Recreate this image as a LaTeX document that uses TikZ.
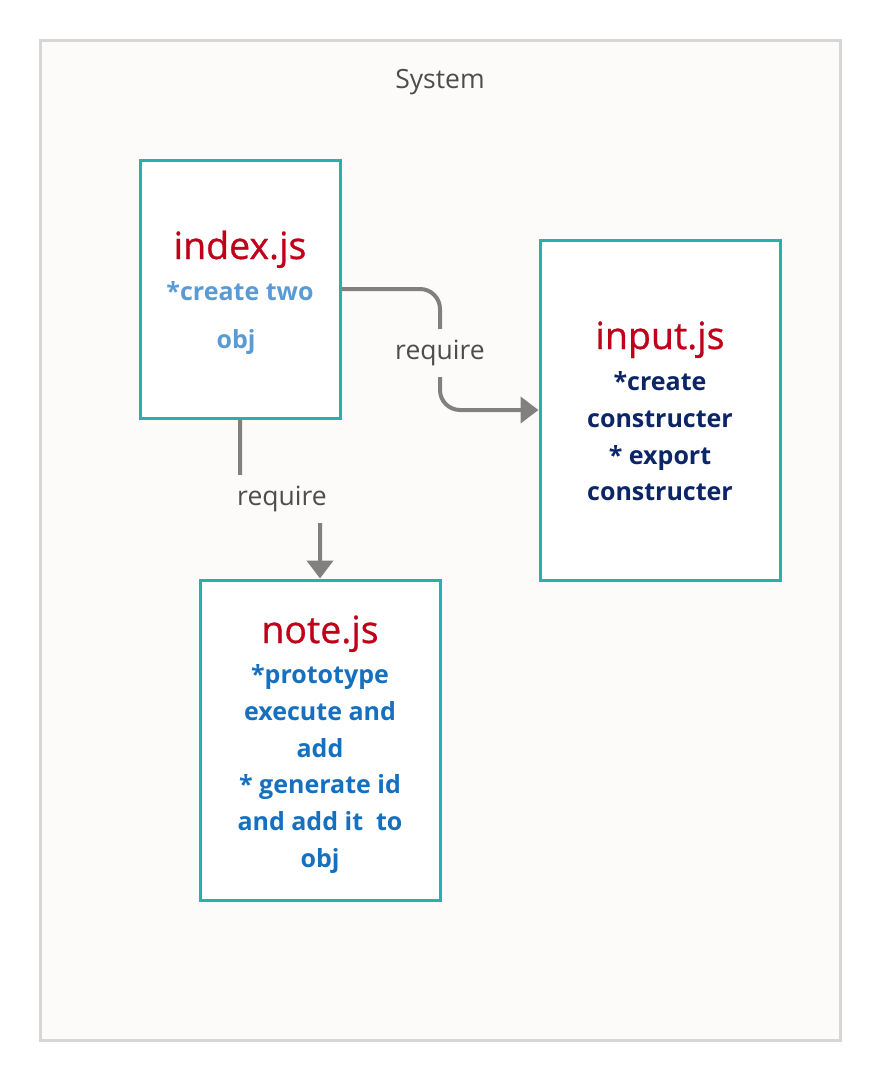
\documentclass[tikz,border=0pt]{standalone}
\usepackage{fontspec}
\setmainfont{Open Sans}
\newfontfamily\ttlfont{Open Sans}[FakeBold=0.8]
\usetikzlibrary{arrows.meta}
\definecolor{bgc}{HTML}{FCFBFA}
\definecolor{framec}{HTML}{D6D6D6}
\definecolor{teal}{HTML}{26B0B0}
\definecolor{titlered}{HTML}{C0001A}
\definecolor{lightblue}{HTML}{5B9BD5}
\definecolor{midblue}{HTML}{1570BF}
\definecolor{navy}{HTML}{0B2566}
\definecolor{connc}{HTML}{808080}
\definecolor{labc}{HTML}{4D4D4D}
\begin{document}
\begin{tikzpicture}[x=1pt,y=-1pt,
  box/.style={draw=teal,line width=3pt,fill=white,inner sep=0pt},
  ttl/.style={anchor=base,text=titlered,font=\ttlfont\fontsize{37.5}{38}\selectfont,inner sep=0pt},
  bodytxt/.style={anchor=base,font=\bfseries\fontsize{25}{30}\selectfont,inner sep=0pt},
  conn/.style={draw=connc,line width=4pt,rounded corners=20pt,-{Triangle[width=26pt,length=18pt]}},
  lab/.style={fill=bgc,text=labc,font=\fontsize{26.5}{26}\selectfont,minimum height=48pt,minimum width=98pt,inner sep=0pt}
]
\useasboundingbox (0,0) rectangle (880,1080);
\fill[white] (0,0) rectangle (880,1080);
\draw[draw=framec,line width=3pt,fill=bgc] (40,40) rectangle (840,1040);
\node[anchor=base,text=labc,font=\fontsize{26.5}{26}\selectfont,inner sep=0pt] (sys) at (440,88) {System};

\node[box,minimum width=200pt,minimum height=258pt] (index) at (240,289) {};
\node[box,minimum width=240pt,minimum height=340pt] (input) at (660,410) {};
\node[box,minimum width=240pt,minimum height=320pt] (note) at (320,740) {};

\node[ttl] (t1) at (240,259) {index.js};
\node[bodytxt,text=lightblue] (i1) at (240,300) {*create two};
\node[bodytxt,text=lightblue] (i2) at (236,348) {obj};

\node[ttl] (t2) at (660,349) {input.js};
\node[bodytxt,text=navy] (n1) at (660,390) {*create};
\node[bodytxt,text=navy] (n2) at (660,427) {constructer};
\node[bodytxt,text=navy] (n3) at (660,464) {* export};
\node[bodytxt,text=navy] (n4) at (660,500) {constructer};

\node[ttl] (t3) at (320,643) {note.js};
\node[bodytxt,text=midblue] (m1) at (320,683) {*prototype};
\node[bodytxt,text=midblue] (m2) at (320,720) {execute and};
\node[bodytxt,text=midblue] (m3) at (320,757) {add};
\node[bodytxt,text=midblue] (m4) at (320,793) {* generate id};
\node[bodytxt,text=midblue] (m5) at (320,830) {and add it\ \ to};
\node[bodytxt,text=midblue] (m6) at (320,867) {obj};

\path[conn] (index.east) -| (440,350) |- (input.west);
\path[conn] (index.south) |- (280,498) -| (note.north);

\node[lab] (r1) at (440,353) {require};
\node[lab] (r2) at (282,499) {require};
\end{tikzpicture}
\end{document}
